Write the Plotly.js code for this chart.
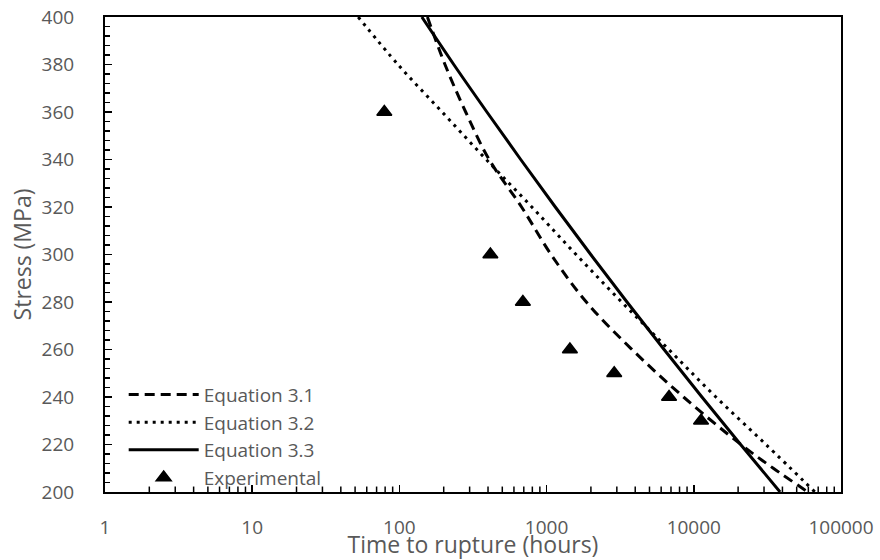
<!DOCTYPE html>
<html>
<head>
<meta charset="utf-8">
<script src="https://cdn.plot.ly/plotly-3.0.1.min.js"></script>
<style>html,body{margin:0;padding:0;background:#fff;}#chart{width:880px;height:560px;}</style>
</head>
<body>
<div id="chart"></div>
<script>
// Equation 3.1 (dashed)
const eq31Time   = [155, 204, 282, 407, 676, 1072, 1862, 3802, 8511, 20893, 34674, 59566];
const eq31Stress = [400, 380, 360, 340, 320, 300, 280, 260, 240, 220, 210, 200];
// Equation 3.2 (dotted)
const eq32Time   = [52.5, 97.7, 195, 389, 794, 1585, 3236, 6761, 14125, 30903, 66527];
const eq32Stress = [400, 380, 360, 340, 320, 300, 280, 260, 240, 220, 200];
// Equation 3.3 (solid)
const eq33Time   = [142, 234, 393, 667, 1146, 1995, 3516, 6281, 11350, 20790, 38550];
const eq33Stress = [400, 380, 360, 340, 320, 300, 280, 260, 240, 220, 200];
// Experimental
const expTime   = [79, 415, 690, 1440, 2880, 6790, 11200];
const expStress = [360, 300, 280, 260, 250, 240, 230];

const xMin = 1, xMax = 100000;

const FONT = 'Open Sans, sans-serif';
const GREY = '#595959';

const traces = [
  {x: eq31Time, y: eq31Stress, name: 'Equation 3.1', mode: 'lines', line: {color: 'black', width: 3, dash: '10px,6px', shape: 'spline'}},
  {x: eq32Time, y: eq32Stress, name: 'Equation 3.2', mode: 'lines', line: {color: 'black', width: 3, dash: '3px,5px', shape: 'spline'}},
  {x: eq33Time, y: eq33Stress, name: 'Equation 3.3', mode: 'lines', line: {color: 'black', width: 3, shape: 'spline'}},
  {x: expTime, y: expStress, name: 'Experimental', mode: 'markers', marker: {symbol: 'triangle-up', size: 13, color: 'black', line: {color: 'black', width: 1.5}}}
];

// minor ticks of the log x axis (2..9 in each decade), drawn inside the plot
const lo = Math.log10(xMin), hi = Math.log10(xMax);
const shapes = [];
for (let d = xMin; d < xMax; d *= 10) {
  for (let k = 2; k <= 9; k++) {
    const f = (Math.log10(k * d) - lo) / (hi - lo);
    shapes.push({type: 'line', xref: 'paper', yref: 'paper', x0: f, x1: f, y0: 0, y1: 0.0115,
                 line: {color: 'black', width: 1.5}, layer: 'above'});
  }
}

const layout = {
  width: 880, height: 560,
  margin: {l: 105, r: 39, t: 17, b: 68},
  paper_bgcolor: '#fff', plot_bgcolor: '#fff',
  font: {family: FONT, color: GREY, size: 19},
  showlegend: true,
  legend: {x: 0.0254, y: -0.0097, xanchor: 'left', yanchor: 'bottom', bgcolor: 'rgba(0,0,0,0)', font: {family: FONT, size: 19, color: GREY}, itemwidth: 70, tracegroupgap: 0},
  shapes: shapes,
  xaxis: {
    type: 'log', range: [lo, hi], dtick: 1, tickformat: 'd',
    showline: true, linecolor: 'black', linewidth: 2, mirror: true,
    ticks: 'inside', ticklen: 7, tickwidth: 1.5, tickcolor: 'black',
    showgrid: false, zeroline: false,
    tickfont: {family: FONT, size: 19, color: GREY},
    ticklabelstandoff: 17,
    title: {text: 'Time to rupture (hours)', font: {family: FONT, size: 23, color: GREY}, standoff: 0}
  },
  yaxis: {
    range: [200, 400], dtick: 20, tick0: 200,
    showline: true, linecolor: 'black', linewidth: 2, mirror: true,
    ticks: 'inside', ticklen: 7, tickwidth: 1.5, tickcolor: 'black',
    minor: {dtick: 4, ticks: 'inside', ticklen: 5, tickwidth: 1.5, tickcolor: 'black', showgrid: false},
    showgrid: false, zeroline: false,
    tickfont: {family: FONT, size: 19, color: GREY},
    ticklabelstandoff: 25,
    title: {text: 'Stress (MPa)', font: {family: FONT, size: 23, color: GREY}, standoff: 4}
  }
};

Plotly.newPlot('chart', traces, layout, {displayModeBar: false, staticPlot: true});
</script>
</body>
</html>
